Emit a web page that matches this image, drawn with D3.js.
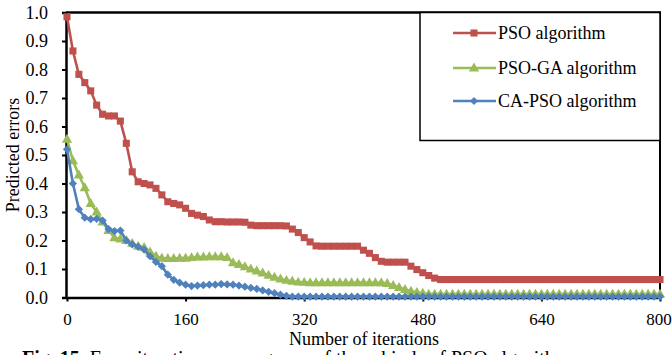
<!DOCTYPE html>
<html>
<head>
<meta charset="utf-8">
<script src="https://cdn.jsdelivr.net/npm/d3@7"></script>
<style>
  html, body { margin: 0; padding: 0; background: #fff; }
  svg { display: block; }
</style>
</head>
<body>
<svg id="chart" width="672" height="355"></svg>
<script>
// Iterations sampled every 8 steps from 0 to 800
const iterations = d3.range(0, 801, 8);

// Predicted error per sampled iteration
const psoErrors = [
  0.985, 0.865, 0.783, 0.754, 0.725, 0.675, 0.643, 0.637, 0.637, 0.619,
  0.541, 0.441, 0.406, 0.400, 0.395, 0.383, 0.360, 0.336, 0.330, 0.325,
  0.313, 0.295, 0.289, 0.284, 0.272, 0.266, 0.266, 0.265, 0.265, 0.265,
  0.264, 0.254, 0.252, 0.252, 0.252, 0.252, 0.252, 0.251, 0.240, 0.228,
  0.210, 0.195, 0.181, 0.180, 0.180, 0.180, 0.180, 0.180, 0.180, 0.180,
  0.166, 0.155, 0.140, 0.127, 0.124, 0.124, 0.124, 0.124, 0.110, 0.098,
  0.087, 0.077, 0.068, 0.063, 0.063, 0.063, 0.063, 0.063, 0.063, 0.063,
  0.063, 0.063, 0.063, 0.063, 0.063, 0.063, 0.063, 0.063, 0.063, 0.063,
  0.063, 0.063, 0.063, 0.063, 0.063, 0.063, 0.063, 0.063, 0.063, 0.063,
  0.063, 0.063, 0.063, 0.063, 0.063, 0.063, 0.063, 0.063, 0.063, 0.063,
  0.063
];
const psoGaErrors = [
  0.555, 0.480, 0.430, 0.385, 0.330, 0.300, 0.265, 0.235, 0.210, 0.205,
  0.200, 0.190, 0.180, 0.176, 0.160, 0.145, 0.138, 0.137, 0.137, 0.138,
  0.138, 0.140, 0.142, 0.142, 0.143, 0.143, 0.143, 0.140, 0.122, 0.116,
  0.108, 0.100, 0.093, 0.086, 0.078, 0.071, 0.065, 0.060, 0.057, 0.054,
  0.053, 0.052, 0.052, 0.052, 0.052, 0.052, 0.052, 0.052, 0.052, 0.052,
  0.052, 0.052, 0.052, 0.052, 0.049, 0.042, 0.035, 0.028, 0.022, 0.018,
  0.015, 0.012, 0.012, 0.012, 0.012, 0.012, 0.012, 0.012, 0.012, 0.012,
  0.012, 0.012, 0.012, 0.012, 0.012, 0.012, 0.012, 0.012, 0.012, 0.012,
  0.012, 0.012, 0.012, 0.012, 0.012, 0.012, 0.012, 0.012, 0.012, 0.012,
  0.012, 0.012, 0.012, 0.012, 0.012, 0.012, 0.012, 0.012, 0.012, 0.012,
  0.012
];
const caPsoErrors = [
  0.520, 0.400, 0.310, 0.280, 0.275, 0.276, 0.270, 0.240, 0.233, 0.235,
  0.200, 0.186, 0.178, 0.168, 0.145, 0.125, 0.110, 0.080, 0.062, 0.052,
  0.045, 0.040, 0.042, 0.043, 0.045, 0.045, 0.047, 0.046, 0.045, 0.042,
  0.038, 0.034, 0.030, 0.025, 0.020, 0.015, 0.010, 0.006, 0.003, 0.003,
  0.003, 0.003, 0.003, 0.003, 0.003, 0.003, 0.003, 0.003, 0.003, 0.003,
  0.003, 0.003, 0.003, 0.003, 0.003, 0.003, 0.003, 0.003, 0.003, 0.003,
  0.003, 0.003, 0.003, 0.003, 0.003, 0.003, 0.003, 0.003, 0.003, 0.003,
  0.003, 0.003, 0.003, 0.003, 0.003, 0.003, 0.003, 0.003, 0.003, 0.003,
  0.003, 0.003, 0.003, 0.003, 0.003, 0.003, 0.003, 0.003, 0.003, 0.003,
  0.003, 0.003, 0.003, 0.003, 0.003, 0.003, 0.003, 0.003, 0.003, 0.003,
  0.003
];

const seriesNames = ["PSO algorithm", "PSO-GA algorithm", "CA-PSO algorithm"];
const seriesColors = ["#C0504D", "#9BBB59", "#4F81BD"];
const xTicks = [0, 160, 320, 480, 640, 800];
const yTicks = [0.0, 0.1, 0.2, 0.3, 0.4, 0.5, 0.6, 0.7, 0.8, 0.9, 1.0];

const FONT = "'Liberation Serif', 'Times New Roman', Tinos, 'DejaVu Serif', serif";
const FS = "18px";
const TICK_FS = "17px";

const series = [
  { name: seriesNames[0], color: seriesColors[0], values: psoErrors, marker: "square" },
  { name: seriesNames[1], color: seriesColors[1], values: psoGaErrors, marker: "triangle" },
  { name: seriesNames[2], color: seriesColors[2], values: caPsoErrors, marker: "diamond" }
];

const svg = d3.select("#chart").style("font-family", FONT);
const plot = { left: 66, right: 660, top: 12.5, bottom: 297.5 };

const x = d3.scaleLinear().domain([0, 800]).range([plot.left + 1, plot.right]);
const y = d3.scaleLinear().domain([0, 1]).range([plot.bottom, plot.top]);

// Frame: top and right border lines
svg.append("line").attr("x1", plot.left).attr("x2", plot.right + 1)
  .attr("y1", plot.top).attr("y2", plot.top)
  .attr("stroke", "#000").attr("stroke-width", 2.5);
svg.append("line").attr("x1", plot.right).attr("x2", plot.right)
  .attr("y1", plot.top).attr("y2", plot.bottom)
  .attr("stroke", "#000").attr("stroke-width", 2);

// Axes
const yAxis = d3.axisLeft(y).tickValues(yTicks).tickFormat(d3.format(".1f"))
  .tickSize(4).tickPadding(14);
const gy = svg.append("g").attr("transform", `translate(${plot.left},0)`).call(yAxis)
  .attr("font-family", null).attr("font-size", null);
gy.select(".domain").attr("stroke", "#000").attr("stroke-width", 2.5);
gy.selectAll(".tick line").attr("stroke", "#000").attr("stroke-width", 2);
gy.selectAll(".tick text").style("font-family", FONT).style("font-size", FS).attr("fill", "#000");

const xAxis = d3.axisBottom(x).tickValues(xTicks).tickFormat(d3.format("d"))
  .tickSize(4).tickPadding(11).tickSizeOuter(0);
const gx = svg.append("g").attr("transform", `translate(0,${plot.bottom})`).call(xAxis)
  .attr("font-family", null).attr("font-size", null);
gx.select(".domain").attr("stroke", "#000").attr("stroke-width", 2.5);
gx.selectAll(".tick line").attr("stroke", "#000").attr("stroke-width", 2);
gx.selectAll(".tick text").style("font-family", FONT).style("font-size", TICK_FS).attr("fill", "#000")
  .attr("dx", d => (d === 800 ? -1.5 : 0));

// Axis titles
svg.append("text")
  .attr("transform", "translate(19,155) rotate(-90)")
  .attr("text-anchor", "middle")
  .style("font-family", FONT)
  .style("font-size", FS)
  .text("Predicted errors");
svg.append("text")
  .attr("x", 364).attr("y", 345)
  .attr("text-anchor", "middle")
  .style("font-family", FONT)
  .style("font-size", FS)
  .text("Number of iterations");

// Figure caption along the bottom edge
const cap = svg.append("text").attr("x", 22).attr("y", 365)
  .style("font-family", FONT).style("font-size", "20px");
cap.append("tspan").attr("font-weight", "bold").text("Fig. 15.");
cap.append("tspan").text(" Error iteration convergence of three kinds of PSO algorithm");

// Marker shapes
function markerPath(kind) {
  if (kind === "square") return d3.symbol().type(d3.symbolSquare).size(50)();
  if (kind === "triangle") return d3.symbol().type(d3.symbolTriangle).size(46)();
  return d3.symbol().type(d3.symbolSquare).size(34)();
}
function markerTransform(kind, px, py) {
  if (kind === "diamond") return `translate(${px},${py}) rotate(45)`;
  if (kind === "triangle") return `translate(${px},${py + 0.5})`;
  return `translate(${px},${py})`;
}

const line = d3.line().x((d, i) => x(iterations[i])).y(d => y(d));

series.forEach(s => {
  const g = svg.append("g");
  g.append("path")
    .attr("d", line(s.values))
    .attr("fill", "none")
    .attr("stroke", s.color)
    .attr("stroke-width", 2.6)
    .attr("stroke-linejoin", "round");
  g.selectAll("path.mk")
    .data(s.values)
    .join("path")
    .attr("class", "mk")
    .attr("d", markerPath(s.marker))
    .attr("transform", (d, i) => markerTransform(s.marker, x(iterations[i]), y(d)))
    .attr("fill", s.color);
});

// Legend
const legend = svg.append("g");
legend.append("rect")
  .attr("x", 420).attr("y", plot.top).attr("width", plot.right - 420).attr("height", 128)
  .attr("fill", "#fff").attr("stroke", "#000").attr("stroke-width", 1.5);
const legendRows = [33, 68, 101];
series.forEach((s, i) => {
  const ly = legendRows[i];
  legend.append("line")
    .attr("x1", 453).attr("x2", 496).attr("y1", ly).attr("y2", ly)
    .attr("stroke", s.color).attr("stroke-width", 2.6);
  legend.append("path")
    .attr("d", markerPath(s.marker))
    .attr("transform", markerTransform(s.marker, 474, ly))
    .attr("fill", s.color);
  legend.append("text")
    .attr("x", 498).attr("y", ly + 6)
    .style("font-family", FONT)
    .style("font-size", FS)
    .text(s.name);
});
</script>
</body>
</html>
